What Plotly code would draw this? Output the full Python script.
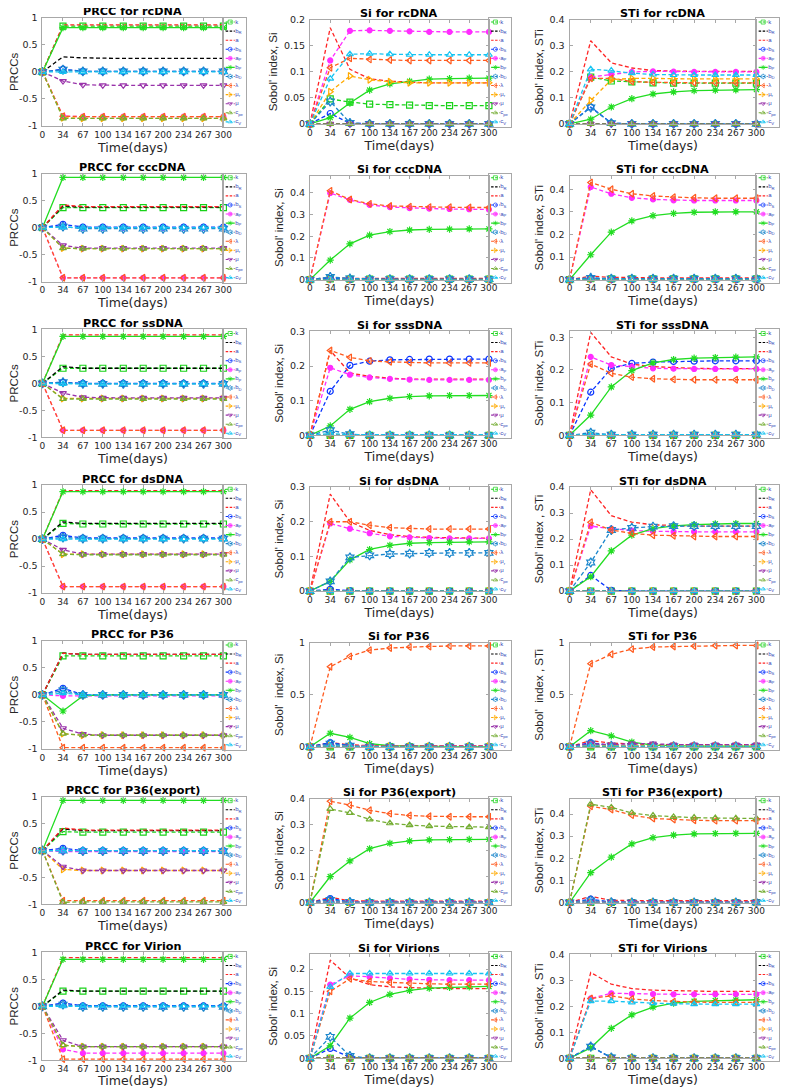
import plotly.graph_objects as go

# ---------------- data ----------------
T = [0, 34, 67, 100, 134, 167, 200, 234, 267, 300]
PARAMS = ["k", "b<sub>R</sub>", "a", "b<sub>S</sub>", "a<sub>P</sub>", "b<sub>P</sub>",
          "b<sub>D</sub>", "λ", "μ<sub>r</sub>", "μ", "c<sub>pe</sub>", "c<sub>V</sub>"]

Z = [0, 0, 0, 0, 0, 0, 0, 0, 0, 0]

# order of rows in each panel: k, bR, a, bS, aP, bP, bD, lambda, mu_r, mu, c_pe, c_V
PRCC_rcDNA = [
    [0, 0.85, 0.85, 0.85, 0.85, 0.85, 0.85, 0.85, 0.85, 0.85],
    [0, 0.28, 0.26, 0.25, 0.25, 0.25, 0.25, 0.25, 0.25, 0.25],
    [0, 0.87, 0.87, 0.87, 0.87, 0.87, 0.87, 0.87, 0.87, 0.87],
    [0, 0.05, 0.01, 0.01, 0.01, 0.01, 0.01, 0.01, 0.01, 0.01],
    [0, -0.82, -0.83, -0.83, -0.83, -0.83, -0.83, -0.83, -0.83, -0.83],
    [0, 0.82, 0.82, 0.82, 0.82, 0.82, 0.82, 0.82, 0.82, 0.82],
    [0, 0.04, 0.01, 0.01, 0.01, 0.01, 0.01, 0.01, 0.01, 0.01],
    [0, -0.82, -0.83, -0.83, -0.83, -0.83, -0.83, -0.83, -0.83, -0.83],
    [0, -0.85, -0.86, -0.86, -0.86, -0.86, -0.86, -0.86, -0.86, -0.86],
    [0, -0.17, -0.24, -0.25, -0.25, -0.25, -0.25, -0.25, -0.25, -0.25],
    [0, -0.86, -0.86, -0.86, -0.86, -0.86, -0.86, -0.86, -0.86, -0.86],
    [0, 0.0, 0.0, 0.0, 0.0, 0.0, 0.0, 0.0, 0.0, 0.0],
]
Si_rcDNA = [
    [0, 0.048, 0.042, 0.038, 0.037, 0.036, 0.035, 0.035, 0.035, 0.035],
    Z,
    [0, 0.185, 0.105, 0.087, 0.082, 0.080, 0.079, 0.079, 0.079, 0.079],
    [0, 0.020, 0.001, 0, 0, 0, 0, 0, 0, 0],
    [0, 0.122, 0.179, 0.180, 0.179, 0.178, 0.177, 0.177, 0.177, 0.177],
    [0, 0.012, 0.040, 0.065, 0.077, 0.082, 0.086, 0.087, 0.088, 0.088],
    [0, 0.043, 0.002, 0, 0, 0, 0, 0, 0, 0],
    [0, 0.108, 0.126, 0.124, 0.123, 0.122, 0.122, 0.122, 0.122, 0.122],
    [0, 0.062, 0.092, 0.085, 0.081, 0.079, 0.079, 0.079, 0.079, 0.079],
    Z,
    Z,
    [0, 0.087, 0.134, 0.135, 0.134, 0.133, 0.133, 0.133, 0.133, 0.133],
]
STi_rcDNA = [
    [0, 0.180, 0.165, 0.162, 0.158, 0.157, 0.157, 0.157, 0.157, 0.157],
    Z,
    [0, 0.320, 0.235, 0.215, 0.205, 0.203, 0.202, 0.202, 0.202, 0.202],
    [0, 0.065, 0.003, 0, 0, 0, 0, 0, 0, 0],
    [0, 0.180, 0.190, 0.200, 0.202, 0.201, 0.200, 0.200, 0.200, 0.200],
    [0, 0.018, 0.065, 0.097, 0.115, 0.123, 0.128, 0.130, 0.131, 0.132],
    [0, 0.063, 0.003, 0, 0, 0, 0, 0, 0, 0],
    [0, 0.175, 0.175, 0.163, 0.160, 0.158, 0.158, 0.158, 0.158, 0.158],
    [0, 0.090, 0.170, 0.175, 0.175, 0.173, 0.173, 0.173, 0.173, 0.173],
    Z,
    Z,
    [0, 0.210, 0.205, 0.195, 0.190, 0.188, 0.188, 0.188, 0.188, 0.188],
]

PRCC_cccDNA = [
    [0, 0.37, 0.37, 0.37, 0.37, 0.37, 0.37, 0.37, 0.37, 0.37],
    [0, 0.40, 0.38, 0.38, 0.38, 0.38, 0.38, 0.38, 0.38, 0.38],
    [0, 0.42, 0.39, 0.39, 0.39, 0.39, 0.39, 0.39, 0.39, 0.39],
    [0, 0.06, 0.01, 0.01, 0.01, 0.01, 0.01, 0.01, 0.01, 0.01],
    [0, -0.93, -0.93, -0.93, -0.93, -0.93, -0.93, -0.93, -0.93, -0.93],
    [0, 0.93, 0.93, 0.93, 0.93, 0.93, 0.93, 0.93, 0.93, 0.93],
    [0, 0.02, -0.02, -0.02, -0.02, -0.02, -0.02, -0.02, -0.02, -0.02],
    [0, -0.93, -0.93, -0.93, -0.93, -0.93, -0.93, -0.93, -0.93, -0.93],
    [0, -0.38, -0.39, -0.39, -0.39, -0.39, -0.39, -0.39, -0.39, -0.39],
    [0, -0.33, -0.38, -0.38, -0.38, -0.38, -0.38, -0.38, -0.38, -0.38],
    [0, -0.38, -0.39, -0.39, -0.39, -0.39, -0.39, -0.39, -0.39, -0.39],
    [0, 0.01, 0.0, 0.0, 0.0, 0.0, 0.0, 0.0, 0.0, 0.0],
]
Si_cccDNA = [
    [0, 0.003, 0.002, 0.002, 0.002, 0.002, 0.002, 0.002, 0.002, 0.002],
    Z,
    [0, 0.010, 0.006, 0.005, 0.005, 0.005, 0.005, 0.005, 0.005, 0.005],
    [0, 0.005, 0.001, 0, 0, 0, 0, 0, 0, 0],
    [0, 0.400, 0.368, 0.345, 0.335, 0.330, 0.328, 0.326, 0.325, 0.324],
    [0, 0.090, 0.165, 0.205, 0.222, 0.229, 0.232, 0.233, 0.234, 0.234],
    [0, 0.012, 0.005, 0.002, 0.002, 0.002, 0.002, 0.002, 0.002, 0.002],
    [0, 0.410, 0.370, 0.350, 0.340, 0.337, 0.335, 0.334, 0.333, 0.333],
    Z,
    Z,
    Z,
    [0, 0.002, 0.001, 0, 0, 0, 0, 0, 0, 0],
]
STi_cccDNA = [
    [0, 0.004, 0.003, 0.003, 0.003, 0.003, 0.003, 0.003, 0.003, 0.003],
    Z,
    [0, 0.015, 0.010, 0.008, 0.008, 0.008, 0.008, 0.008, 0.008, 0.008],
    [0, 0.006, 0.001, 0, 0, 0, 0, 0, 0, 0],
    [0, 0.410, 0.380, 0.362, 0.355, 0.351, 0.350, 0.350, 0.350, 0.350],
    [0, 0.110, 0.210, 0.260, 0.283, 0.293, 0.298, 0.300, 0.300, 0.300],
    [0, 0.008, 0.004, 0.004, 0.004, 0.004, 0.004, 0.004, 0.004, 0.004],
    [0, 0.430, 0.400, 0.380, 0.370, 0.365, 0.362, 0.360, 0.360, 0.360],
    Z,
    Z,
    Z,
    [0, 0.002, 0.001, 0, 0, 0, 0, 0, 0, 0],
]

PRCC_ssDNA = [
    [0, 0.28, 0.28, 0.28, 0.28, 0.28, 0.28, 0.28, 0.28, 0.28],
    [0, 0.31, 0.28, 0.28, 0.28, 0.28, 0.28, 0.28, 0.28, 0.28],
    [0, 0.90, 0.90, 0.90, 0.90, 0.90, 0.90, 0.90, 0.90, 0.90],
    [0, 0.02, 0.0, 0.0, 0.0, 0.0, 0.0, 0.0, 0.0, 0.0],
    [0, -0.87, -0.87, -0.87, -0.87, -0.87, -0.87, -0.87, -0.87, -0.87],
    [0, 0.87, 0.87, 0.87, 0.87, 0.87, 0.87, 0.87, 0.87, 0.87],
    [0, 0.02, -0.01, -0.01, -0.01, -0.01, -0.01, -0.01, -0.01, -0.01],
    [0, -0.87, -0.87, -0.87, -0.87, -0.87, -0.87, -0.87, -0.87, -0.87],
    [0, -0.28, -0.28, -0.28, -0.28, -0.28, -0.28, -0.28, -0.28, -0.28],
    [0, -0.18, -0.26, -0.27, -0.27, -0.27, -0.27, -0.27, -0.27, -0.27],
    [0, -0.29, -0.29, -0.29, -0.29, -0.29, -0.29, -0.29, -0.29, -0.29],
    [0, -0.01, -0.01, -0.01, -0.01, -0.01, -0.01, -0.01, -0.01, -0.01],
]
Si_sssDNA = [
    Z,
    Z,
    [0, 0.245, 0.180, 0.170, 0.165, 0.162, 0.162, 0.162, 0.162, 0.162],
    [0, 0.127, 0.202, 0.214, 0.218, 0.219, 0.220, 0.220, 0.220, 0.220],
    [0, 0.195, 0.175, 0.167, 0.163, 0.161, 0.160, 0.160, 0.160, 0.160],
    [0, 0.027, 0.075, 0.097, 0.107, 0.112, 0.114, 0.115, 0.115, 0.115],
    [0, 0.015, 0.003, 0, 0, 0, 0, 0, 0, 0],
    [0, 0.245, 0.225, 0.215, 0.212, 0.210, 0.209, 0.209, 0.209, 0.209],
    Z,
    Z,
    Z,
    [0, 0.005, 0.002, 0.002, 0.002, 0.002, 0.002, 0.002, 0.002, 0.002],
]
STi_sssDNA = [
    Z,
    Z,
    [0, 0.315, 0.240, 0.218, 0.210, 0.207, 0.205, 0.204, 0.204, 0.204],
    [0, 0.132, 0.205, 0.220, 0.224, 0.226, 0.227, 0.228, 0.228, 0.228],
    [0, 0.240, 0.215, 0.210, 0.205, 0.204, 0.203, 0.203, 0.203, 0.203],
    [0, 0.062, 0.148, 0.198, 0.222, 0.232, 0.236, 0.238, 0.239, 0.240],
    [0, 0.008, 0.002, 0.002, 0.002, 0.002, 0.002, 0.002, 0.002, 0.002],
    [0, 0.218, 0.190, 0.178, 0.173, 0.171, 0.170, 0.170, 0.170, 0.170],
    Z,
    Z,
    Z,
    [0, 0.003, 0.002, 0.002, 0.002, 0.002, 0.002, 0.002, 0.002, 0.002],
]

PRCC_dsDNA = [
    [0, 0.29, 0.28, 0.28, 0.28, 0.28, 0.28, 0.28, 0.28, 0.28],
    [0, 0.32, 0.29, 0.29, 0.29, 0.29, 0.29, 0.29, 0.29, 0.29],
    [0, 0.90, 0.90, 0.90, 0.90, 0.90, 0.90, 0.90, 0.90, 0.90],
    [0, 0.07, 0.02, 0.02, 0.02, 0.02, 0.02, 0.02, 0.02, 0.02],
    [0, -0.88, -0.88, -0.88, -0.88, -0.88, -0.88, -0.88, -0.88, -0.88],
    [0, 0.88, 0.88, 0.88, 0.88, 0.88, 0.88, 0.88, 0.88, 0.88],
    [0, 0.03, 0.01, 0.01, 0.01, 0.01, 0.01, 0.01, 0.01, 0.01],
    [0, -0.88, -0.88, -0.88, -0.88, -0.88, -0.88, -0.88, -0.88, -0.88],
    [0, -0.28, -0.28, -0.28, -0.28, -0.28, -0.28, -0.28, -0.28, -0.28],
    [0, -0.20, -0.28, -0.28, -0.28, -0.28, -0.28, -0.28, -0.28, -0.28],
    [0, -0.28, -0.29, -0.29, -0.29, -0.29, -0.29, -0.29, -0.29, -0.29],
    [0, 0.0, 0.0, 0.0, 0.0, 0.0, 0.0, 0.0, 0.0, 0.0],
]
Si_dsDNA = [
    Z,
    Z,
    [0, 0.280, 0.200, 0.175, 0.163, 0.157, 0.155, 0.153, 0.153, 0.153],
    [0, 0.005, 0.001, 0, 0, 0, 0, 0, 0, 0],
    [0, 0.195, 0.180, 0.167, 0.158, 0.155, 0.153, 0.152, 0.152, 0.152],
    [0, 0.028, 0.090, 0.120, 0.132, 0.138, 0.140, 0.141, 0.142, 0.142],
    [0, 0.028, 0.097, 0.103, 0.107, 0.108, 0.110, 0.110, 0.110, 0.110],
    [0, 0.200, 0.200, 0.190, 0.183, 0.180, 0.179, 0.179, 0.179, 0.179],
    Z,
    Z,
    Z,
    Z,
]
STi_dsDNA = [
    Z,
    Z,
    [0, 0.390, 0.290, 0.265, 0.255, 0.252, 0.250, 0.250, 0.250, 0.250],
    [0, 0.060, 0.003, 0, 0, 0, 0, 0, 0, 0],
    [0, 0.250, 0.240, 0.233, 0.230, 0.228, 0.228, 0.228, 0.228, 0.228],
    [0, 0.055, 0.155, 0.215, 0.240, 0.251, 0.256, 0.259, 0.260, 0.260],
    [0, 0.110, 0.235, 0.243, 0.248, 0.250, 0.250, 0.250, 0.250, 0.250],
    [0, 0.265, 0.235, 0.222, 0.215, 0.213, 0.210, 0.210, 0.210, 0.210],
    Z,
    Z,
    Z,
    Z,
]

PRCC_P36 = [
    [0, 0.72, 0.72, 0.72, 0.72, 0.72, 0.72, 0.72, 0.72, 0.72],
    [0, 0.77, 0.75, 0.75, 0.75, 0.75, 0.75, 0.75, 0.75, 0.75],
    [0, 0.77, 0.75, 0.75, 0.75, 0.75, 0.75, 0.75, 0.75, 0.75],
    [0, 0.12, 0.0, 0.0, 0.0, 0.0, 0.0, 0.0, 0.0, 0.0],
    [0, -0.02, -0.02, -0.02, -0.02, -0.02, -0.02, -0.02, -0.02, -0.02],
    [0, -0.30, -0.02, 0.0, 0.0, 0.0, 0.0, 0.0, 0.0, 0.0],
    [0, 0.08, 0.0, 0.0, 0.0, 0.0, 0.0, 0.0, 0.0, 0.0],
    [0, -0.98, -0.98, -0.98, -0.98, -0.98, -0.98, -0.98, -0.98, -0.98],
    [0, -0.72, -0.75, -0.75, -0.75, -0.75, -0.75, -0.75, -0.75, -0.75],
    [0, -0.62, -0.73, -0.75, -0.75, -0.75, -0.75, -0.75, -0.75, -0.75],
    [0, -0.72, -0.75, -0.75, -0.75, -0.75, -0.75, -0.75, -0.75, -0.75],
    [0, 0.03, 0.0, 0.0, 0.0, 0.0, 0.0, 0.0, 0.0, 0.0],
]
Si_P36 = [
    Z,
    Z,
    [0, 0.040, 0.020, 0.010, 0.010, 0.010, 0.010, 0.010, 0.010, 0.010],
    [0, 0.040, 0.010, 0, 0, 0, 0, 0, 0, 0],
    [0, 0.010, 0.005, 0.005, 0.005, 0.005, 0.005, 0.005, 0.005, 0.005],
    [0, 0.130, 0.090, 0.030, 0.010, 0.005, 0.002, 0.002, 0.002, 0.002],
    [0, 0.030, 0.010, 0, 0, 0, 0, 0, 0, 0],
    [0, 0.770, 0.870, 0.930, 0.950, 0.960, 0.965, 0.970, 0.970, 0.970],
    [0, 0.010, 0.005, 0.005, 0.005, 0.005, 0.005, 0.005, 0.005, 0.005],
    [0, 0.010, 0.005, 0.005, 0.005, 0.005, 0.005, 0.005, 0.005, 0.005],
    Z,
    [0, 0.010, 0.005, 0, 0, 0, 0, 0, 0, 0],
]
STi_P36 = [
    Z,
    Z,
    [0, 0.060, 0.035, 0.025, 0.020, 0.020, 0.020, 0.020, 0.020, 0.020],
    [0, 0.040, 0.010, 0.005, 0.005, 0.005, 0.005, 0.005, 0.005, 0.005],
    [0, 0.015, 0.010, 0.010, 0.010, 0.010, 0.010, 0.010, 0.010, 0.010],
    [0, 0.155, 0.105, 0.045, 0.015, 0.008, 0.005, 0.005, 0.005, 0.005],
    [0, 0.030, 0.010, 0.005, 0.005, 0.005, 0.005, 0.005, 0.005, 0.005],
    [0, 0.800, 0.890, 0.940, 0.960, 0.965, 0.970, 0.975, 0.975, 0.975],
    [0, 0.015, 0.010, 0.010, 0.010, 0.010, 0.010, 0.010, 0.010, 0.010],
    [0, 0.030, 0.020, 0.030, 0.030, 0.020, 0.020, 0.020, 0.020, 0.020],
    Z,
    [0, 0.010, 0.005, 0.005, 0.005, 0.005, 0.005, 0.005, 0.005, 0.005],
]

PRCC_P36export = [
    [0, 0.35, 0.34, 0.34, 0.34, 0.34, 0.34, 0.34, 0.34, 0.34],
    [0, 0.40, 0.37, 0.37, 0.37, 0.37, 0.37, 0.37, 0.37, 0.37],
    [0, 0.42, 0.38, 0.38, 0.38, 0.38, 0.38, 0.38, 0.38, 0.38],
    [0, 0.04, 0.0, 0.0, 0.0, 0.0, 0.0, 0.0, 0.0, 0.0],
    [0, -0.02, -0.02, -0.02, -0.02, -0.02, -0.02, -0.02, -0.02, -0.02],
    [0, 0.93, 0.93, 0.93, 0.93, 0.93, 0.93, 0.93, 0.93, 0.93],
    [0, 0.0, -0.01, -0.01, -0.01, -0.01, -0.01, -0.01, -0.01, -0.01],
    [0, -0.93, -0.93, -0.93, -0.93, -0.93, -0.93, -0.93, -0.93, -0.93],
    [0, -0.35, -0.37, -0.37, -0.37, -0.37, -0.37, -0.37, -0.37, -0.37],
    [0, -0.30, -0.37, -0.37, -0.37, -0.37, -0.37, -0.37, -0.37, -0.37],
    [0, -0.96, -0.95, -0.95, -0.95, -0.95, -0.95, -0.95, -0.95, -0.95],
    [0, 0.0, 0.0, 0.0, 0.0, 0.0, 0.0, 0.0, 0.0, 0.0],
]
Si_P36export = [
    Z,
    Z,
    [0, 0.020, 0.006, 0.005, 0.005, 0.005, 0.005, 0.005, 0.005, 0.005],
    [0, 0.015, 0.002, 0, 0, 0, 0, 0, 0, 0],
    Z,
    [0, 0.100, 0.160, 0.207, 0.228, 0.237, 0.241, 0.242, 0.243, 0.243],
    [0, 0.010, 0.002, 0, 0, 0, 0, 0, 0, 0],
    [0, 0.390, 0.375, 0.355, 0.342, 0.335, 0.332, 0.330, 0.330, 0.330],
    Z,
    [0, 0.002, 0.002, 0.002, 0.002, 0.002, 0.002, 0.002, 0.002, 0.002],
    [0, 0.360, 0.345, 0.320, 0.305, 0.298, 0.294, 0.292, 0.290, 0.290],
    Z,
]
STi_P36export = [
    Z,
    Z,
    [0, 0.028, 0.010, 0.008, 0.008, 0.008, 0.008, 0.008, 0.008, 0.008],
    [0, 0.015, 0.002, 0, 0, 0, 0, 0, 0, 0],
    Z,
    [0, 0.135, 0.205, 0.265, 0.293, 0.305, 0.310, 0.312, 0.313, 0.313],
    [0, 0.010, 0.002, 0, 0, 0, 0, 0, 0, 0],
    [0, 0.435, 0.420, 0.395, 0.380, 0.375, 0.372, 0.370, 0.370, 0.370],
    Z,
    [0, 0.003, 0.003, 0.003, 0.003, 0.003, 0.003, 0.003, 0.003, 0.003],
    [0, 0.445, 0.430, 0.405, 0.393, 0.387, 0.384, 0.382, 0.381, 0.380],
    Z,
]

PRCC_Virion = [
    [0, 0.28, 0.28, 0.28, 0.28, 0.28, 0.28, 0.28, 0.28, 0.28],
    [0, 0.30, 0.28, 0.28, 0.28, 0.28, 0.28, 0.28, 0.28, 0.28],
    [0, 0.90, 0.90, 0.90, 0.90, 0.90, 0.90, 0.90, 0.90, 0.90],
    [0, 0.06, 0.01, 0.01, 0.01, 0.01, 0.01, 0.01, 0.01, 0.01],
    [0, -0.80, -0.87, -0.87, -0.87, -0.87, -0.87, -0.87, -0.87, -0.87],
    [0, 0.87, 0.87, 0.87, 0.87, 0.87, 0.87, 0.87, 0.87, 0.87],
    [0, 0.03, -0.01, -0.01, -0.01, -0.01, -0.01, -0.01, -0.01, -0.01],
    [0, -0.98, -0.98, -0.98, -0.98, -0.98, -0.98, -0.98, -0.98, -0.98],
    [0, -0.72, -0.75, -0.75, -0.75, -0.75, -0.75, -0.75, -0.75, -0.75],
    [0, -0.63, -0.75, -0.75, -0.75, -0.75, -0.75, -0.75, -0.75, -0.75],
    [0, -0.72, -0.75, -0.75, -0.75, -0.75, -0.75, -0.75, -0.75, -0.75],
    [0, 0.0, 0.0, 0.0, 0.0, 0.0, 0.0, 0.0, 0.0, 0.0],
]
Si_Virions = [
    Z,
    Z,
    [0, 0.220, 0.180, 0.165, 0.160, 0.158, 0.157, 0.156, 0.156, 0.156],
    [0, 0.022, 0.002, 0, 0, 0, 0, 0, 0, 0],
    [0, 0.165, 0.185, 0.182, 0.179, 0.177, 0.176, 0.175, 0.175, 0.175],
    [0, 0.028, 0.090, 0.125, 0.143, 0.152, 0.157, 0.159, 0.160, 0.161],
    [0, 0.048, 0.005, 0, 0, 0, 0, 0, 0, 0],
    [0, 0.150, 0.178, 0.172, 0.170, 0.168, 0.167, 0.166, 0.166, 0.166],
    Z,
    Z,
    Z,
    [0, 0.160, 0.190, 0.190, 0.190, 0.190, 0.190, 0.190, 0.190, 0.190],
]
STi_Virions = [
    Z,
    Z,
    [0, 0.330, 0.285, 0.268, 0.262, 0.260, 0.258, 0.257, 0.257, 0.257],
    [0, 0.045, 0.002, 0, 0, 0, 0, 0, 0, 0],
    [0, 0.230, 0.250, 0.248, 0.247, 0.246, 0.246, 0.246, 0.246, 0.246],
    [0, 0.040, 0.115, 0.167, 0.197, 0.212, 0.219, 0.222, 0.224, 0.225],
    [0, 0.045, 0.003, 0, 0, 0, 0, 0, 0, 0],
    [0, 0.230, 0.240, 0.228, 0.222, 0.218, 0.216, 0.215, 0.215, 0.215],
    Z,
    Z,
    Z,
    [0, 0.220, 0.220, 0.215, 0.212, 0.210, 0.208, 0.208, 0.208, 0.208],
]

PANELS = [
    [PRCC_rcDNA, Si_rcDNA, STi_rcDNA],
    [PRCC_cccDNA, Si_cccDNA, STi_cccDNA],
    [PRCC_ssDNA, Si_sssDNA, STi_sssDNA],
    [PRCC_dsDNA, Si_dsDNA, STi_dsDNA],
    [PRCC_P36, Si_P36, STi_P36],
    [PRCC_P36export, Si_P36export, STi_P36export],
    [PRCC_Virion, Si_Virions, STi_Virions],
]
TITLES = [
    ["PRCC for rcDNA", "Si for rcDNA", "STi for rcDNA"],
    ["PRCC for cccDNA", "Si for cccDNA", "STi for cccDNA"],
    ["PRCC for ssDNA", "Si for sssDNA", "STi for sssDNA"],
    ["PRCC for dsDNA", "Si for dsDNA", "STi for dsDNA"],
    ["PRCC for P36", "Si for P36", "STi for P36"],
    ["PRCC for P36(export)", "Si for P36(export)", "STi for P36(export)"],
    ["PRCC for Virion", "Si for Virions", "STi for Virions"],
]
YLABELS = [
    ["PRCCs", "Sobol' index, Si", "Sobol' index, STi"],
    ["PRCCs", "Sobol' index, Si", "Sobol' index, STi"],
    ["PRCCs", "Sobol' index, Si", "Sobol' index, STi"],
    ["PRCCs", "Sobol' index, Si", "Sobol' index , STi"],
    ["PRCCs", "Sobol'  index, Si", "Sobol'  index , STi"],
    ["PRCCs", "Sobol' index, Si", "Sobol' index, STi"],
    ["PRCCs", "Sobol' index, Si", "Sobol' index, STi"],
]
YMAX = [
    [1, 0.2, 0.4],
    [1, 0.48, 0.46],
    [1, 0.3, 0.318],
    [1, 0.3, 0.4],
    [1, 1.0, 1.0],
    [1, 0.4, 0.47],
    [1, 0.233, 0.4],
]
PRCC_TICKS = [-1, -0.5, 0, 0.5, 1]
YTICKS = [
    [PRCC_TICKS, [0, 0.05, 0.1, 0.15, 0.2], [0, 0.1, 0.2, 0.3, 0.4]],
    [PRCC_TICKS, [0, 0.1, 0.2, 0.3, 0.4], [0, 0.1, 0.2, 0.3, 0.4]],
    [PRCC_TICKS, [0, 0.1, 0.2, 0.3], [0, 0.1, 0.2, 0.3]],
    [PRCC_TICKS, [0, 0.1, 0.2, 0.3], [0, 0.1, 0.2, 0.3, 0.4]],
    [PRCC_TICKS, [0, 0.5, 1], [0, 0.5, 1]],
    [PRCC_TICKS, [0, 0.1, 0.2, 0.3, 0.4], [0, 0.1, 0.2, 0.3, 0.4]],
    [PRCC_TICKS, [0, 0.05, 0.1, 0.15, 0.2], [0, 0.1, 0.2, 0.3, 0.4]],
]

# ---------------- styles ----------------
COLORS = ["#19d219", "#000000", "#ff2424", "#0a35ff", "#ff2cff", "#22dd22",
          "#1a86cc", "#ff5a1e", "#ffaa00", "#9933aa", "#74ad32", "#14c4f2"]
SYMBOLS = ["square-open", None, None, "circle-open", "circle", "asterisk-open",
           "hexagram-open", "triangle-left-open", "triangle-right-open",
           "triangle-down-open", "triangle-up-open", "triangle-up-open"]
DASHES = ["4px,2.5px", "4px,2.5px", "4px,2.5px", "4px,2.5px", "4px,2.5px", "solid",
          "4px,2.5px", "4px,2.5px", "4px,2.5px", "4px,2.5px", "4px,2.5px", "4px,2.5px"]
MSIZE = [6, 0, 0, 6, 5, 6, 7, 6, 6, 6, 6, 6]

# page body has an 8px default margin: lay out in page pixels, shift by PAD
PAD = 8
PAGE_W, PAGE_H = 789, 1088
W, H = PAGE_W - PAD, PAGE_H - PAD
FONT = "Liberation Sans, Arial, sans-serif"
WFONT = "DejaVu Sans, Verdana, sans-serif"
AXCOL = "#a8a8a8"
TXT = "#262626"
COL_X = [(39, 223), (311, 493), (575, 765)]
COL_Y = [(12, 121), (14, 119), (14, 119)]
LEG_X = [(223, 246), (493, 515), (765, 788)]
LEG_Y = (12, 122)
ROW_STEP = 157.33


def px_x(v):
    return (v - PAD) / W


def px_y(v):
    return 1 - (v - PAD) / H


def fmt(v):
    return "%g" % v


fig = go.Figure()
layout = {}
annotations = []

for r in range(7):
    for c in range(3):
        n = r * 3 + c + 1
        ln = n + 21
        xa = "x" if n == 1 else "x%d" % n
        ya = "y" if n == 1 else "y%d" % n
        lxa = "x%d" % ln
        lya = "y%d" % ln
        off = r * ROW_STEP
        x0, x1 = COL_X[c]
        y0, y1 = COL_Y[c][0] + off, COL_Y[c][1] + off
        dx = [px_x(x0), px_x(x1)]
        dy = [px_y(y1), px_y(y0)]
        data = PANELS[r][c]
        for i, ys in enumerate(data):
            sym = SYMBOLS[i]
            fig.add_trace(go.Scatter(
                x=T, y=ys, xaxis=xa, yaxis=ya,
                mode="lines+markers" if sym else "lines",
                line=dict(color=COLORS[i], width=1.3, dash=DASHES[i]),
                marker=dict(symbol=sym or "circle", size=MSIZE[i], color=COLORS[i],
                            line=dict(color=COLORS[i], width=1.2)),
                cliponaxis=False, showlegend=False, hoverinfo="skip"))
        ymin = -1 if c == 0 else 0
        ymax = YMAX[r][c]
        ticks = YTICKS[r][c]
        layout["xaxis" if n == 1 else "xaxis%d" % n] = dict(
            domain=dx, anchor=ya, range=[0, 300], tickvals=T, ticktext=[str(t) for t in T],
            ticks="inside", ticklen=3, tickcolor=AXCOL, showline=True, linecolor=AXCOL,
            linewidth=1, mirror="ticks", showgrid=False, zeroline=False, tickangle=0,
            tickfont=dict(family=WFONT, size=9, color=TXT),
            title=dict(text="Time(days)", font=dict(family=WFONT, size=12.5, color=TXT), standoff=2),
            fixedrange=True)
        layout["yaxis" if n == 1 else "yaxis%d" % n] = dict(
            domain=dy, anchor=xa, range=[ymin, ymax], tickvals=ticks,
            ticktext=[fmt(t) for t in ticks],
            ticks="inside", ticklen=3, tickcolor=AXCOL, showline=True, linecolor=AXCOL,
            linewidth=1, mirror="ticks", showgrid=False, zeroline=False,
            tickfont=dict(family=WFONT, size=9.5, color=TXT), ticklabelstandoff=2,
            title=dict(text=YLABELS[r][c], font=dict(family=FONT, size=11.5, color=TXT), standoff=3),
            fixedrange=True)
        annotations.append(dict(
            text="<b>%s</b>" % TITLES[r][c], x=(dx[0] + dx[1]) / 2, y=dy[1],
            xref="paper", yref="paper", xanchor="center", yanchor="bottom", yshift=-2.5,
            showarrow=False, font=dict(family=WFONT, size=11.2, color="#000000")))

        # per-panel legend box
        lx0, lx1 = LEG_X[c]
        ly0, ly1 = LEG_Y[0] + off, LEG_Y[1] + off
        layout["xaxis%d" % ln] = dict(
            domain=[px_x(lx0), min(px_x(lx1), 1.0)], anchor=lya, range=[0, 1], showline=True,
            mirror=True, linecolor=AXCOL, linewidth=1, showticklabels=False, ticks="",
            showgrid=False, zeroline=False, fixedrange=True)
        layout["yaxis%d" % ln] = dict(
            domain=[px_y(ly1), px_y(ly0)], anchor=lxa, range=[11.55, -0.45],
            showline=True, mirror=True, linecolor=AXCOL, linewidth=1, showticklabels=False,
            ticks="", showgrid=False, zeroline=False, fixedrange=True)
        for i, name in enumerate(PARAMS):
            sym = SYMBOLS[i]
            fig.add_trace(go.Scatter(
                x=[0.1, 0.3, 0.5], y=[i, i, i], xaxis=lxa, yaxis=lya,
                mode="lines+markers",
                line=dict(color=COLORS[i], width=1.1,
                          dash="solid" if DASHES[i] == "solid" else "2.5px,1.5px"),
                marker=dict(symbol=sym or "circle", size=[0, (4 if sym else 0), 0],
                            color=COLORS[i], line=dict(color=COLORS[i], width=1)),
                cliponaxis=False, showlegend=False, hoverinfo="skip"))
        fig.add_trace(go.Scatter(
            x=[0.52] * len(PARAMS), y=list(range(len(PARAMS))), xaxis=lxa, yaxis=lya,
            mode="text", text=PARAMS, textposition="middle right",
            textfont=dict(family=FONT, size=6, color="#3347b8"),
            cliponaxis=False, showlegend=False, hoverinfo="skip"))

fig.update_layout(
    width=W, height=H, margin=dict(l=0, r=0, t=0, b=0),
    paper_bgcolor="white", plot_bgcolor="white", showlegend=False,
    annotations=annotations, **layout)

fig.write_html("out.html")
